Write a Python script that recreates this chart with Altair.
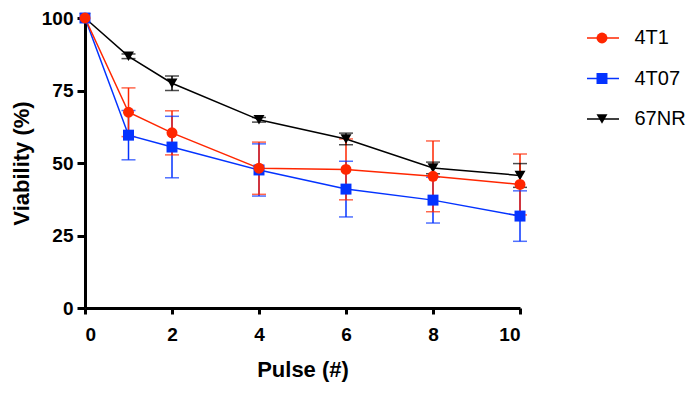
import altair as alt
import pandas as pd

pulse = [0, 1, 2, 4, 6, 8, 10]
series_names = ["4T1", "4T07", "67NR"]
mean_4t1 = [100, 67.5, 60.4, 48.2, 47.8, 45.4, 42.6]
sd_4t1 = [0, 8.4, 7.6, 9.0, 10.5, 12.2, 10.5]
mean_4t07 = [100, 59.6, 55.5, 47.6, 41.0, 37.2, 31.7]
sd_4t07 = [0, 8.5, 10.6, 9.0, 9.6, 7.9, 8.7]
mean_67nr = [100, 86.8, 77.5, 64.9, 58.3, 48.3, 45.7]
sd_67nr = [0, 0.8, 2.5, 0.8, 2.0, 2.0, 4.1]
colors = ["#FF2600", "#0433FF", "#000000"]
shapes = ["circle", "square", "triangle-down"]

rows = []
for name, m, s in [("67NR", mean_67nr, sd_67nr), ("4T07", mean_4t07, sd_4t07), ("4T1", mean_4t1, sd_4t1)]:
    for p, mv, sv in zip(pulse, m, s):
        rows.append({"pulse": p, "series": name, "mean": mv, "lo": mv - sv, "hi": mv + sv, "sd": sv})
df = pd.DataFrame(rows)
caps = []
for r in rows:
    if r["sd"] > 0:
        caps.append({"pulse": r["pulse"], "series": r["series"], "val": r["lo"]})
        caps.append({"pulse": r["pulse"], "series": r["series"], "val": r["hi"]})
caps_df = pd.DataFrame(caps)

xs = alt.Scale(domain=[0, 10], nice=False, zero=False)
ys = alt.Scale(domain=[0, 100], nice=False)
cs = alt.Scale(domain=series_names, range=colors)

X = alt.X("pulse:Q", scale=xs, axis=alt.Axis(values=[0, 2, 4, 6, 8, 10], title="Pulse (#)", titlePadding=15))
Y = alt.Y("mean:Q", scale=ys, axis=alt.Axis(values=[0, 25, 50, 75, 100], title="Viability (%)", titlePadding=8))

rules = alt.Chart(df).mark_rule(strokeWidth=1.5).encode(
    x=alt.X("pulse:Q", scale=xs),
    y=alt.Y("lo:Q", scale=ys),
    y2="hi:Q",
    color=alt.Color("series:N", scale=cs, legend=None),
)
ticks = alt.Chart(caps_df).mark_tick(orient="horizontal", size=14, thickness=1.5).encode(
    x=alt.X("pulse:Q", scale=xs),
    y=alt.Y("val:Q", scale=ys),
    color=alt.Color("series:N", scale=cs, legend=None),
)
# legend A: coloured line segments (no labels; labels come from legend B)
legA = alt.Legend(
    title=None, orient="none", legendX=501, legendY=10,
    symbolSize=1024, symbolStrokeWidth=1.5, rowPadding=20.5, padding=0, clipHeight=20,
    labelExpr="''", labelFont="Liberation Sans", labelFontSize=20,
)
lines = alt.Chart(df).mark_line(strokeWidth=1.5).encode(
    x=X, y=Y,
    stroke=alt.Stroke("series:N", scale=cs, legend=legA),
    detail="series:N",
)
point_layers = []
for name, shp in [("67NR", "triangle-down"), ("4T07", "square"), ("4T1", "circle")]:
    point_layers.append(
        alt.Chart(df).transform_filter(alt.datum.series == name).mark_point(
            filled=True, size=120, opacity=1, shape=shp
        ).encode(
            x=X, y=Y,
            color=alt.Color("series:N", scale=cs, legend=None),
        )
    )
# legend B: markers + labels
legB = alt.Legend(
    title=None, orient="right", offset=58.5, padding=10,
    symbolSize=120, symbolOpacity=1, labelOffset=22.5, rowPadding=20.5, clipHeight=20,
    symbolFillColor=alt.ExprRef(expr="scale('color', datum.value)"),
    symbolStrokeWidth=0,
    labelFont="Liberation Sans", labelFontSize=20, labelColor="black",
)
legend_layer = alt.Chart(df).mark_point(filled=True, opacity=0).encode(
    x=alt.X("pulse:Q", scale=xs),
    y=alt.Y("mean:Q", scale=ys),
    color=alt.Color("series:N", scale=cs, legend=legB),
    shape=alt.Shape("series:N", scale=alt.Scale(domain=series_names, range=shapes), legend=legB),
)

chart = alt.layer(rules, ticks, lines, *point_layers, legend_layer).properties(
    width=435, height=290,
    autosize=alt.AutoSizeParams(type="none"),
    padding={"left": 77, "top": 10, "right": 168, "bottom": 80},
).configure_view(stroke=None).configure_axis(
    grid=False,
    labelFont="Liberation Sans", labelFontWeight="bold", labelFontSize=19, labelColor="black",
    titleFont="Liberation Sans", titleFontWeight="bold", titleFontSize=22, titleColor="black",
    domainColor="black", domainWidth=3, tickColor="black", tickWidth=3, tickSize=8,
    labelPadding=4,
).configure_axisX(labelPadding=11, tickSize=6)

chart.save("out.html", embed_options={"renderer": "svg", "actions": False})
